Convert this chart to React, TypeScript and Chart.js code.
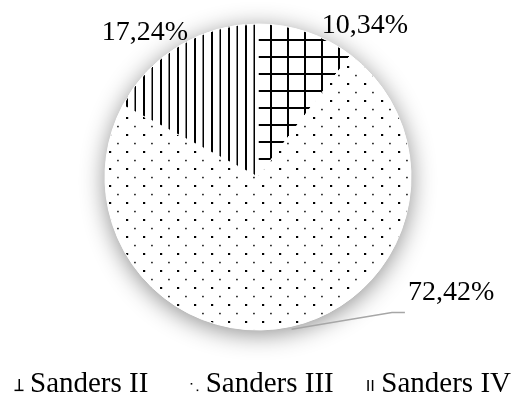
import React, { useEffect, useRef } from 'react';
import { Chart, registerables } from 'chart.js';

Chart.register(...registerables);

// ---- data ----
const categories = ['Sanders II', 'Sanders III', 'Sanders IV'];
const shares = [10.34, 72.42, 17.24];
const patternKinds = ['grid', 'dots', 'lines'];

const FONT = '28px "Liberation Serif", "Times New Roman", serif';
const LEGEND_FONT = '29px "Liberation Serif", "Times New Roman", serif';

const fmt = (v: number) => v.toFixed(2).replace('.', ',') + '%';

function makeTile(kind: string): HTMLCanvasElement {
  const s = 17;
  const cv = document.createElement('canvas');
  cv.width = s;
  cv.height = s;
  const c = cv.getContext('2d')!;
  c.fillStyle = '#ffffff';
  c.fillRect(0, 0, s, s);
  c.fillStyle = '#000000';
  if (kind === 'grid') {
    c.fillRect(15, 0, 2, s);
    c.fillRect(0, 5, s, 2);
  } else if (kind === 'dots') {
    c.fillRect(7, 15, 2.2, 2.2);
    c.fillRect(15.2, 6.8, 1.5, 1.5);
  } else {
    c.fillRect(7, 0, 2, s);
    c.fillRect(15.5, 0, 1.8, s);
  }
  return cv;
}

// label placement relative to the outer edge point of each slice (mid angle)
const labelPlacement = [
  { dx: 15, dy: 1, align: 'left' as CanvasTextAlign, leader: false },
  { dx: 117, dy: -26, align: 'left' as CanvasTextAlign, leader: true },
  { dx: 9, dy: -6, align: 'right' as CanvasTextAlign, leader: false },
];

const shadowPlugin = {
  id: 'pieShadow',
  beforeDatasetsDraw(chart: any) {
    const meta = chart.getDatasetMeta(0);
    const arc = meta.data[0];
    if (!arc) return;
    const { x, y, outerRadius } = arc.getProps(['x', 'y', 'outerRadius'], true);
    const ctx = chart.ctx;
    ctx.save();
    ctx.shadowColor = 'rgba(0,0,0,0.45)';
    ctx.shadowBlur = 24;
    ctx.shadowOffsetY = 4;
    ctx.fillStyle = '#ffffff';
    ctx.beginPath();
    ctx.arc(x, y, outerRadius, 0, Math.PI * 2);
    ctx.fill();
    ctx.restore();
  },
};

const labelPlugin = {
  id: 'sliceLabels',
  afterDatasetsDraw(chart: any) {
    const meta = chart.getDatasetMeta(0);
    const ctx = chart.ctx;
    const values = chart.data.datasets[0].data as number[];
    meta.data.forEach((arc: any, i: number) => {
      const { x, y, startAngle, endAngle, outerRadius } = arc.getProps(
        ['x', 'y', 'startAngle', 'endAngle', 'outerRadius'],
        true
      );
      const mid = (startAngle + endAngle) / 2;
      const ex = x + outerRadius * Math.cos(mid);
      const ey = y + outerRadius * Math.sin(mid);
      const p = labelPlacement[i];
      const tx = ex + p.dx;
      const ty = ey + p.dy;
      ctx.save();
      if (p.leader) {
        const sx = x + (outerRadius + 3) * Math.cos(mid);
        const sy = y + (outerRadius + 3) * Math.sin(mid);
        ctx.strokeStyle = '#a6a6a6';
        ctx.lineWidth = 1.5;
        ctx.beginPath();
        ctx.moveTo(sx, sy);
        ctx.lineTo(tx - 16, ty + 12);
        ctx.lineTo(tx - 3, ty + 12);
        ctx.stroke();
      }
      ctx.font = FONT;
      ctx.fillStyle = '#000000';
      ctx.textAlign = p.align;
      ctx.textBaseline = 'alphabetic';
      ctx.fillText(fmt(values[i]), tx, ty);
      ctx.restore();
    });
  },
};

function drawGlyph(ctx: CanvasRenderingContext2D, kind: string, tx: number, base: number) {
  ctx.fillStyle = '#000000';
  if (kind === 'grid') {
    ctx.fillRect(tx - 11.5, base - 13, 1.5, 12);
    ctx.fillRect(tx - 15.5, base - 2.4, 9, 1.5);
  } else if (kind === 'dots') {
    ctx.fillRect(tx - 15, base - 9, 1.6, 1.6);
    ctx.fillRect(tx - 9, base - 2.5, 1.6, 1.6);
  } else {
    ctx.fillRect(tx - 14, base - 12, 1.5, 11);
    ctx.fillRect(tx - 9.5, base - 12, 1.5, 11);
  }
}

const legendPlugin = {
  id: 'patternLegend',
  afterDraw(chart: any) {
    const ctx = chart.ctx as CanvasRenderingContext2D;
    const labels = chart.data.labels as string[];
    ctx.save();
    ctx.font = LEGEND_FONT;
    const widths = labels.map((l) => ctx.measureText(l).width);
    const glyphSpace = 15;
    const colWidth = Math.max(...widths) + glyphSpace + 31;
    const total = colWidth * (labels.length - 1) + glyphSpace + widths[widths.length - 1];
    const start = (chart.width - total) / 2 + 4;
    const base = chart.height - 4;
    labels.forEach((l, i) => {
      const tx = start + i * colWidth + glyphSpace;
      drawGlyph(ctx, patternKinds[i], tx, base);
      ctx.fillStyle = '#000000';
      ctx.textAlign = 'left';
      ctx.textBaseline = 'alphabetic';
      ctx.fillText(l, tx, base);
    });
    ctx.restore();
  },
};

export default function App() {
  const ref = useRef<HTMLCanvasElement>(null);

  useEffect(() => {
    const canvas = ref.current!;
    const ctx = canvas.getContext('2d')!;
    const patterns = patternKinds.map((k) => ctx.createPattern(makeTile(k), 'repeat')!);
    const chart = new Chart(canvas, {
      type: 'pie',
      data: {
        labels: categories,
        datasets: [
          {
            data: shares,
            backgroundColor: patterns as any,
            borderColor: '#ffffff',
            borderWidth: 1,
            radius: 153,
          } as any,
        ],
      },
      options: {
        responsive: false,
        animation: false,
        layout: { padding: { top: 0, bottom: 42, left: 0, right: 2 } },
        plugins: {
          legend: { display: false },
          tooltip: { enabled: false },
        },
      },
      plugins: [shadowPlugin, labelPlugin, legendPlugin],
    });
    return () => chart.destroy();
  }, []);

  return (
    <div style={{ position: 'fixed', left: 0, top: 0, width: 518, height: 396, background: '#fff' }}>
      <canvas ref={ref} width={518} height={396} style={{ display: 'block' }} />
    </div>
  );
}
